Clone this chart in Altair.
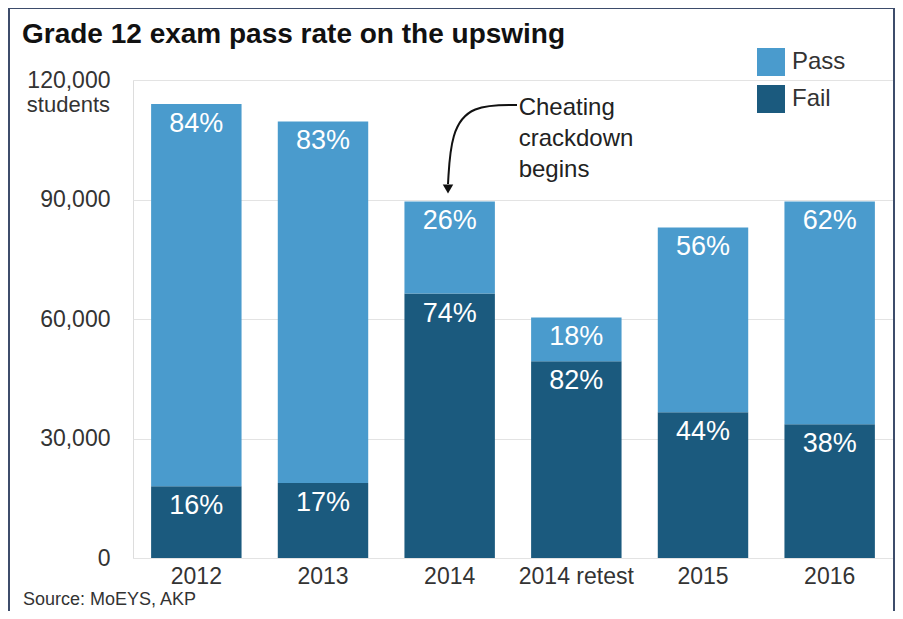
import altair as alt
import pandas as pd

# ---- data ----
years = ["2012", "2013", "2014", "2014 retest", "2015", "2016"]
fail_students = [18000, 18800, 66400, 49400, 36600, 33600]
pass_students = [96000, 90800, 23100, 11000, 46400, 55900]
pass_pct = ["84%", "83%", "26%", "18%", "56%", "62%"]
fail_pct = ["16%", "17%", "74%", "82%", "44%", "38%"]
y_ticks = [0, 30000, 60000, 90000, 120000]
series = ["Pass", "Fail"]
series_colors = ["#4A9BCD", "#1B5A7E"]

title_text = "Grade 12 exam pass rate on the upswing"
y_unit = "students"
source_text = "Source: MoEYS, AKP"
note_text = "Cheating\ncrackdown\nbegins"
note_year = "2014"

FONT = "Liberation Sans"
W, H = 760, 478

rows = []
for i, yr in enumerate(years):
    rows.append({"year": yr, "status": "Fail", "count": fail_students[i],
                 "pct": fail_pct[i], "ord": 0, "top": fail_students[i]})
    rows.append({"year": yr, "status": "Pass", "count": pass_students[i],
                 "pct": pass_pct[i], "ord": 1,
                 "top": fail_students[i] + pass_students[i]})
df = pd.DataFrame(rows)

xscale = alt.Scale(domain=years, paddingInner=0.286, paddingOuter=0.143)
yscale = alt.Scale(domain=[0, 120000], nice=False)

x_enc = alt.X("year:N", sort=years, scale=xscale,
              axis=alt.Axis(title=None, labelAngle=0, ticks=False, domain=False,
                            labelFontSize=23, labelFont=FONT, labelColor="#333",
                            labelPadding=7, grid=False))

bars = alt.Chart(df).mark_bar().encode(
    x=x_enc,
    y=alt.Y("count:Q", stack="zero", scale=yscale,
            axis=alt.Axis(title=None, values=y_ticks, format=",d", ticks=False,
                          domain=False, labelFontSize=23, labelFont=FONT,
                          labelColor="#333", labelPadding=23,
                          gridColor="#e3e3e3", gridWidth=1)),
    color=alt.Color("status:N",
                    scale=alt.Scale(domain=series, range=series_colors),
                    legend=alt.Legend(title=None, orient="none", legendX=624,
                                      legendY=-32, symbolType="square",
                                      symbolSize=784, symbolStrokeWidth=0,
                                      symbolOpacity=1,
                                      labelFontSize=24, labelFont=FONT,
                                      labelColor="#333", labelOffset=7,
                                      rowPadding=9, padding=0)),
    order=alt.Order("ord:Q"),
)

labels = alt.Chart(df).mark_text(
    color="white", fontSize=27, font=FONT, baseline="middle", dy=20
).encode(
    x=alt.X("year:N", sort=years, scale=xscale),
    y=alt.Y("top:Q", scale=yscale),
    text="pct:N",
)

students = alt.Chart(pd.DataFrame({"t": [y_unit]})).mark_text(
    align="right", baseline="middle", fontSize=22, font=FONT, color="#333", dy=25
).encode(x=alt.value(-23), y=alt.datum(120000, scale=yscale), text="t:N")

title = alt.Chart(pd.DataFrame({"t": [title_text]})).mark_text(
    align="left", baseline="alphabetic", fontSize=28, font=FONT,
    fontWeight="bold", color="#111"
).encode(x=alt.value(-111), y=alt.value(-37), text="t:N")

source = alt.Chart(pd.DataFrame({"t": [source_text]})).mark_text(
    align="left", baseline="alphabetic", fontSize=18, font=FONT, color="#333"
).encode(x=alt.value(-110), y=alt.value(525), text="t:N")

note = alt.Chart(pd.DataFrame({"t": [note_text], "year": [note_year]})).mark_text(
    align="left", baseline="top", fontSize=24, font=FONT, color="#222",
    lineBreak="\n", lineHeight=31, dx=69
).encode(x=alt.X("year:N", sort=years, scale=xscale), y=alt.value(16), text="t:N")

border = alt.Chart(pd.DataFrame({"a": [0]})).mark_rect(
    filled=False, stroke="#3d4c6b", strokeWidth=2
).encode(x=alt.value(-124), x2=alt.value(761), y=alt.value(-72), y2=alt.value(580))

main = alt.layer(border, bars, labels, students, title, source, note)

# arrow annotation (pixel space of the plot area)
arrow_pts = pd.DataFrame({"px": [384, 338, 318, 315], "py": [25, 25, 52, 104],
                          "i": [0, 1, 2, 3]})
arrow_head = pd.DataFrame({"px": [315], "py": [109]})
px_scale = alt.Scale(domain=[0, W], range=[0, W])
py_scale = alt.Scale(domain=[0, H], range=[0, H])
arrow_line = alt.Chart(arrow_pts).mark_line(
    color="#111", strokeWidth=2, interpolate="basis"
).encode(x=alt.X("px:Q", scale=px_scale, axis=None),
         y=alt.Y("py:Q", scale=py_scale, axis=None), order="i:Q")
arrow_tip = alt.Chart(arrow_head).mark_point(
    shape="triangle-down", filled=True, color="#111", size=110, opacity=1
).encode(x=alt.X("px:Q", scale=px_scale, axis=None),
         y=alt.Y("py:Q", scale=py_scale, axis=None))
arrow = alt.layer(arrow_line, arrow_tip)

chart = alt.layer(main, arrow).resolve_scale(
    x="independent", y="independent"
).properties(
    width=W, height=H,
    autosize=alt.AutoSizeParams(type="none"),
    padding={"left": 125, "top": 72, "right": 2, "bottom": 53},
).configure_view(stroke=None, strokeWidth=0).configure_axis(
    domain=False
).configure(background="white")

chart.save("out.html", embed_options={"renderer": "svg", "actions": False})
